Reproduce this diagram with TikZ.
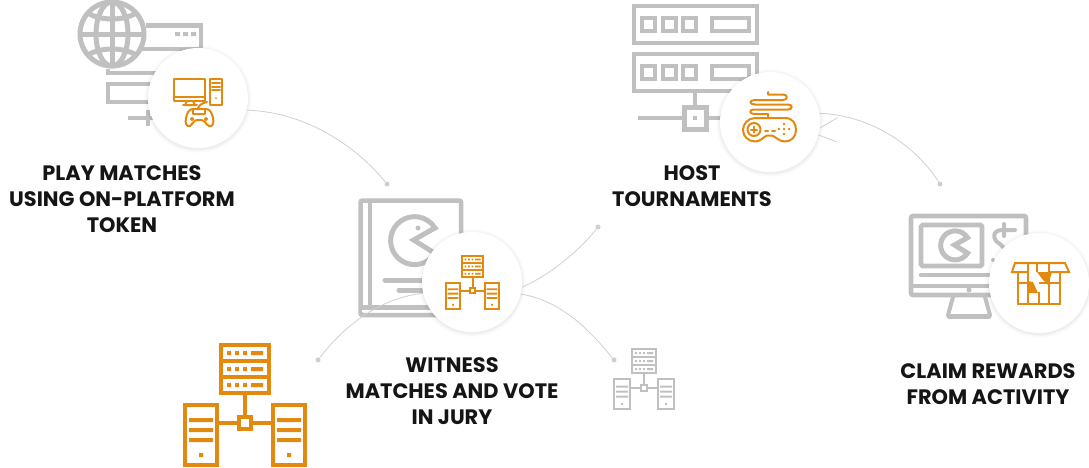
\documentclass[tikz,border=0pt]{standalone}
\usepackage{fontspec}
\setmainfont{Poppins}
\definecolor{gr}{HTML}{C0C0C0}
\definecolor{or}{HTML}{E3890F}
\definecolor{lin}{HTML}{CFCFCF}
\definecolor{ink}{HTML}{151515}
\newcommand\netico[5]{%
\begin{scope}[shift={(#1,#2)},scale=#3,draw=#4,fill=#4,line width=#5*4pt,line join=miter]
\draw[fill=none] (38,2) rectangle (86,50);
\draw (38,18) -- (86,18) (38,34) -- (86,34);
\foreach \yy in {10,26,42}{
\fill (44,\yy-2) rectangle (48,\yy+2) (52,\yy-2) rectangle (56,\yy+2) (60,\yy-2) rectangle (64,\yy+2) (68,\yy-2) rectangle (80,\yy+2);}
\draw[fill=none] (2,62) rectangle (34,122);
\draw[fill=none] (90,62) rectangle (122,122);
\foreach \xx in {0,88}{
\fill (\xx+6,75) rectangle (\xx+30,79) (\xx+6,85) rectangle (\xx+30,89) (\xx+6,95) rectangle (\xx+30,99) (\xx+16,110) rectangle (\xx+20,114);}
\draw[fill=none] (56,74) rectangle (68,86);
\draw (62,52) -- (62,74) (36,80) -- (56,80) (68,80) -- (88,80);
\end{scope}}
\newcommand\pac[4]{% cx cy r lw
\draw[gr,line width=#4pt,line join=miter] (#1,#2)++(-#3*0.1,0) -- ++(32:#3*1.05) arc[start angle=32,end angle=328,radius=#3] -- cycle;}
\tikzset{
 greyl/.style={draw=gr,line width=4.6pt,fill=none},
 orl/.style={draw=or,line width=2pt,fill=none,line join=round,line cap=round},
 arcl/.style={draw=lin,line width=.8pt},
 badge/.style={circle,fill=white,minimum size=100pt,inner sep=0pt},
 dotn/.style={circle,fill=lin,minimum size=5pt,inner sep=0pt},
 lab/.style={align=center,font=\fontsize{20.9}{26}\selectfont\bfseries,text=ink,inner sep=0pt}
}
\begin{document}
\begin{tikzpicture}[x=1pt,y=-1pt]
\useasboundingbox (0,0) rectangle (1089,467);
% ---- icon 1 grey
\draw[greyl] (146,25.5) -- (201,25.5) -- (201,49) -- (140,49);
\fill[gr] (175,32) rectangle (180,36) (183,32) rectangle (188,36) (191,32) rectangle (196,36);
\draw[greyl] (108,69) -- (108,73) -- (165,73);
\draw[greyl] (165,84) -- (108,84) -- (108,102) -- (165,102);
\draw[greyl] (128,118) -- (165,118) (148,110) -- (148,126);
\draw[greyl,fill=white,line width=5pt] (112,34) circle[radius=32];
\draw[gr,line width=5pt] (112,2) -- (112,66) (80,34) -- (144,34);
\draw[gr,line width=5pt] (112,34) ellipse[x radius=16,y radius=32];
\draw[gr,line width=5pt] (88,13) .. controls (100,21) and (124,21) .. (136,13);
\draw[gr,line width=5pt] (88,55) .. controls (100,47) and (124,47) .. (136,55);
% ---- icon 2 grey
\foreach \oy in {0,48}{
\begin{scope}[shift={(0,\oy)}]
\draw[greyl] (634,6) rectangle (757,43);
\draw[greyl] (642,18) rectangle (655,31) (663,18) rectangle (676,31) (683,18) rectangle (696,31) (712,18) rectangle (749,31);
\end{scope}}
\draw[greyl] (695,91) -- (695,107) (638,118) -- (684,118) (707,118) -- (730,118);
\draw[greyl] (684.5,107.5) rectangle (706.5,129.5);
\fill[gr] (693,116) rectangle (697,120);
% ---- icon 3 grey
\draw[greyl,rounded corners=2pt,line width=4.5pt] (360.5,200.5) rectangle (461,315);
\draw[gr,line width=4.5pt] (370,200) -- (370,308);
\draw[gr,line width=5pt] (360,307) -- (461,307);
\draw[white,line width=1.2pt] (362,311) -- (460,311);
\pac{416}{240}{24}{5}
\fill[gr] (418,228) circle[radius=2.5];
\draw[gr,line width=5pt,line cap=round] (385,280) -- (430,280) (399,290) -- (430,290);
% ---- icon 4 grey
\draw[greyl,rounded corners=2pt] (911,216) rectangle (1026,295);
\draw[gr,line width=4pt] (911,286) -- (1026,286);
\draw[greyl,rounded corners=1.5pt] (921,225) rectangle (982,266);
\pac{956}{245}{14.5}{5}
\draw[gr,line width=4.5pt,line cap=round] (921,275) -- (1010,275);
\fill[gr] (969,290) circle[radius=2.5];
\draw[gr,line width=4pt,line cap=round,line join=round] (953,297) -- (948,315) (985,297) -- (990,315);
\draw[gr,line width=5pt,line cap=round] (949,316) -- (989,316);
\draw[gr,line width=4pt,line cap=round] (1004,224) -- (1004,236) (1015,230) -- (1002,230) .. controls (992,230) and (992,240) .. (1000,244) -- (1006,250);
\fill[gr] (993,260) circle[radius=2];
% ---- connectors and badges
\foreach \cx/\cy in {198/98,770/122,472/282,1039/283}{
\foreach \rr in {54,53,52,51.5,51,50.5}{\fill[black,opacity=.012] (\cx,\cy+1) circle[radius=\rr];}}
\node[dotn] (d1) at (387,184) {};
\node[dotn] (d2) at (940,184) {};
\node[dotn] (d3) at (598,227) {};
\node[dotn] (d4) at (614,360) {};
\node[dotn] (d5) at (318,360) {};
\node[badge] (c1) at (198,98) {};
\node[badge] (c2) at (770,122) {};
\node[badge] (c3) at (472,282) {};
\node[badge] (c4) at (1039,283) {};
\draw[arcl] (c1.-14) .. controls (305,112) and (355,145) .. (d1);
\draw[arcl] (c2.10) .. controls (870,115) and (915,145) .. (d2);
\draw[arcl] (c3.-6) .. controls (550,275) and (580,250) .. (d3);
\draw[arcl] (c3.-14) .. controls (560,300) and (590,330) .. (d4);
\draw[arcl] (c3.193) .. controls (380,298) and (345,325) .. (d5);
\coordinate (s1) at (837,118);
\coordinate (s2) at (837,142);
\draw[arcl] (c2.-7) -- (s1);
\draw[arcl] (c2.-15) -- (s2);
% ---- orange icon c1: computer + pad
\begin{scope}[orl]
\draw (174,78.5) rectangle (205,101);
\draw (174,97) -- (205,97);
\draw (187,101) -- (185,105) -- (195,105) -- (193,101);
\draw (183,105) -- (197,105);
\draw (209.5,78.5) rectangle (222,105);
\draw (212,83) -- (220,83) (212,86.5) -- (220,86.5) (212,90) -- (220,90);
\fill[or] (216,98) circle[radius=1];
\draw (193,109) -- (206,109) .. controls (210,109) and (212,113) .. (213,118) .. controls (214.5,124) and (212,127) .. (209,126) .. controls (205,124) and (205,120) .. (201,120) -- (197,120) .. controls (194,120) and (193,124) .. (190,126) .. controls (186,127) and (185,123) .. (186,118) .. controls (187,113) and (189,109) .. (193,109);
\draw (193,109) -- (193,114) -- (205,114) -- (205,109);
\draw (198,108) .. controls (200,104) and (203,103) .. (207,102);
\draw[line width=1.4pt] (192,119) circle[radius=1.3] (206,119) circle[radius=1.3];
\end{scope}
% ---- orange icon c2: gamepad
\begin{scope}[orl]
\draw (755,118) -- (785,118) .. controls (793,118) and (796,124) .. (796,130) .. controls (796,137) and (791,141.5) .. (785,141.5) .. controls (779,141.5) and (776,137) .. (772,135.5) -- (767,135.5) .. controls (763,137) and (761,141.5) .. (755,141.5) .. controls (748,141.5) and (743,136) .. (743,130) .. controls (743,124) and (748,118) .. (755,118);
\draw (754,129.5) circle[radius=6.5];
\draw (754,126.5) -- (754,132.5) (751,129.5) -- (757,129.5);
\draw (765,131) -- (768,131) (772,131) -- (775,131);
\foreach \px/\py in {784/124,784/134,779/129,789/129,784/129}{\fill[or] (\px,\py) circle[radius=1.3];}
\draw (768,92) -- (768,94.5) -- (783,94.5) .. controls (788,94.5) and (788,100) .. (783,100) -- (755,100) .. controls (749,100) and (749,104.5) .. (755,104.5) -- (788,104.5) .. controls (793,104.5) and (793,109.5) .. (788,109.5) -- (754,109.5) .. controls (749,109.5) and (749,114) .. (754,114) -- (768,114) -- (768,117);
\end{scope}
% ---- orange network icons
\netico{183}{343}{1}{or}{1}
\netico{445}{255}{.444}{or}{.5}
\netico{613}{348}{.5}{gr}{.45}
% ---- orange icon c4: open box
\begin{scope}[draw=or,line width=2pt,line join=miter]
\draw (1028,272) -- (1012,272) -- (1015,263) -- (1065,263) -- (1069,272) -- (1049,272);
\draw (1018,272) -- (1018,304) -- (1060,304) -- (1060,272);
\draw (1018,283) -- (1028,283) (1039,283) -- (1060,283);
\draw (1028,263) -- (1028,304) (1049,263) -- (1049,304);
\draw (1037,263) -- (1037,272) (1039,292) -- (1039,304);
\fill[or] (1037,272) -- (1052,272) -- (1048,285) -- (1043,280) -- cycle;
\fill[or] (1028,281) -- (1033,282) -- (1038,293) -- (1027,293) -- cycle;
\end{scope}
% ---- labels
\node[lab] (t1) at (122,199.5) {PLAY MATCHES\\USING ON-PLATFORM\\TOKEN};
\node[lab] (t2) at (452,391.5) {WITNESS\\MATCHES AND VOTE\\IN JURY};
\node[lab] (t3) at (692,186.5) {HOST\\TOURNAMENTS};
\node[lab] (t4) at (988,384.5) {CLAIM REWARDS\\FROM ACTIVITY};
\end{tikzpicture}
\end{document}
